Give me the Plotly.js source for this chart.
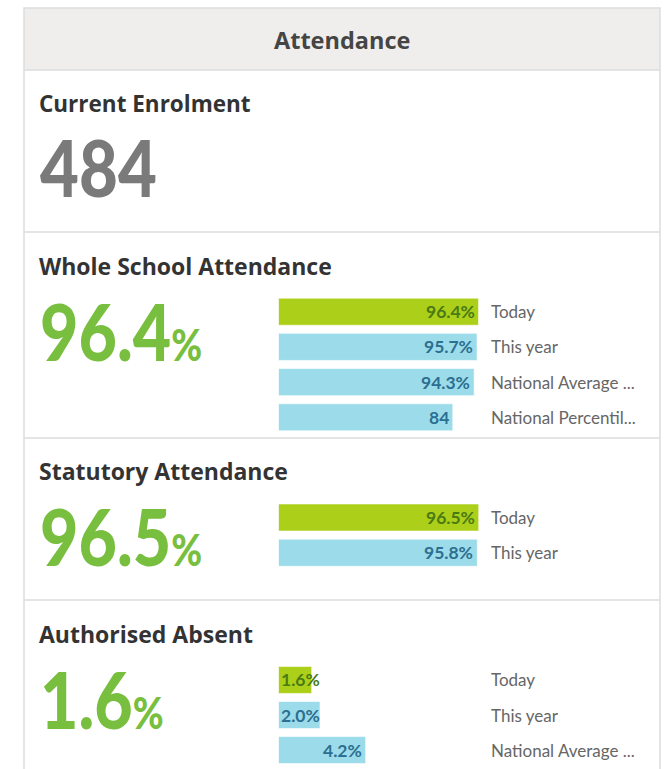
<!DOCTYPE html>
<html><head><meta charset="utf-8">
<script src="https://cdn.plot.ly/plotly-3.0.1.min.js"></script>
<style>html,body{margin:0;padding:0;background:#fff}#chart{width:664px;height:769px}</style>
</head><body><div id="chart"></div>
<script>
// ---- data ----
const cardTitle = 'Attendance';
const enrolLabel = 'Current Enrolment';
const enrolment = 484;

const wsTitle = 'Whole School Attendance';
const wsHeadline = 96.4;
const wsCats = ['Today', 'This year', 'National Average ...', 'National Percentil...'];
const wsVals = [96.4, 95.7, 94.3, 84];
const wsText = ['96.4%', '95.7%', '94.3%', '84'];

const stTitle = 'Statutory Attendance';
const stHeadline = 96.5;
const stCats = ['Today', 'This year'];
const stVals = [96.5, 95.8];
const stText = ['96.5%', '95.8%'];

const aaTitle = 'Authorised Absent';
const aaHeadline = 1.6;
const aaCats = ['Today', 'This year', 'National Average ...'];
const aaVals = [1.6, 2.0, 4.2];
const aaText = ['1.6%', '2.0%', '4.2%'];

// ---- styles ----
const GREEN = '#acd01a', BLUE = '#9cdcea';
const GREEN_TXT = '#4a7a14', BLUE_TXT = '#2c6f90';
const BIG_GREEN = '#79bf3f';
const FONT = 'Lato, "Open Sans", sans-serif';
const HFONT = '"Open Sans", Lato, sans-serif';
const W = 664, H = 769;
const px = x => x / W, py = y => 1 - y / H;

function barTrace(cats, vals, ax) {
  return {
    type: 'bar', orientation: 'h', x: vals, y: cats,
    xaxis: 'x' + ax, yaxis: 'y' + ax,
    marker: { color: vals.map((v, i) => i === 0 ? GREEN : BLUE),
              line: { color: 'rgba(255,255,255,0.6)', width: 1 } },
    hoverinfo: 'skip', showlegend: false
  };
}

const data = [
  barTrace(wsCats, wsVals, ''),
  barTrace(stCats, stVals, '2'),
  barTrace(aaCats, aaVals, '3')
];

const xdom = [px(278.5), px(486)];
function yax(n, top, bottom, anchor) {
  return { domain: [py(bottom), py(top)], range: [n - 0.5, -0.5], showticklabels: false,
           showgrid: false, zeroline: false, showline: false, ticks: '', fixedrange: true, anchor: anchor };
}
function xax(max, anchor) {
  return { domain: xdom, range: [0, max], visible: false, fixedrange: true, anchor: anchor };
}

const annotations = [];
const bigIdx = [];
function txt(text, x, y, size, color, family, weight, opts) {
  annotations.push(Object.assign({ text: text, x: px(x), y: py(y), xref: 'paper', yref: 'paper',
    showarrow: false, xanchor: 'left', yanchor: 'middle',
    font: { family: family, size: size, color: color, weight: weight } }, opts || {}));
  return annotations.length - 1;
}
txt(cardTitle, 342, 40, 23.5, '#454545', HFONT, 'bold', { xanchor: 'center' });
txt(enrolLabel, 37, 103, 22.5, '#333', HFONT, 'bold');
bigIdx.push(txt(String(enrolment), 38, 167, 79, '#7a7a7a', FONT, 900));

function section(title, headline, titleY, numY) {
  txt(title, 37, titleY, 23, '#333', HFONT, 'bold');
  bigIdx.push(txt(headline.toFixed(1) + '<span style="font-size:44px">%</span>',
      38, numY, 78, BIG_GREEN, FONT, 900));
}
section(wsTitle, wsHeadline, 266, 331);
section(stTitle, stHeadline, 471, 536);
section(aaTitle, aaHeadline, 634, 699);

function barLabels(cats, vals, texts, ax, minX) {
  cats.forEach((c, i) => {
    annotations.push({ text: texts[i], x: Math.max(vals[i], minX), y: c,
      xref: 'x' + ax, yref: 'y' + ax, xanchor: 'right', yanchor: 'middle', xshift: -2,
      showarrow: false, font: { family: FONT, size: 17.5, weight: 'bold', color: i === 0 ? GREEN_TXT : BLUE_TXT } });
    annotations.push({ text: c, x: px(489), y: c, xref: 'paper', yref: 'y' + ax,
      xanchor: 'left', yanchor: 'middle', showarrow: false,
      font: { family: FONT, size: 17, color: '#666' } });
  });
}
barLabels(wsCats, wsVals, wsText, '', 0);
barLabels(stCats, stVals, stText, '2', 0);
barLabels(aaCats, aaVals, aaText, '3', 2.2);

const L = 24, R = 660;
const shapes = [
  { type: 'rect', xref: 'paper', yref: 'paper', x0: px(L), x1: px(R), y0: py(70), y1: py(8),
    fillcolor: '#efeeed', line: { width: 0 }, layer: 'below' },
  { type: 'rect', xref: 'paper', yref: 'paper', x0: px(L), x1: px(R), y0: py(780), y1: py(8),
    fillcolor: 'rgba(0,0,0,0)', line: { color: '#dddddd', width: 1.5 }, layer: 'below' }
];
[70, 232, 438, 600].forEach(y => shapes.push({ type: 'line', xref: 'paper', yref: 'paper',
  x0: px(L), x1: px(R), y0: py(y), y1: py(y), line: { color: '#dddddd', width: 1.5 } }));

const layout = {
  width: W, height: H, margin: { l: 0, r: 0, t: 0, b: 0 },
  paper_bgcolor: '#fff', plot_bgcolor: 'rgba(0,0,0,0)',
  bargap: 0.23, showlegend: false,
  font: { family: FONT },
  xaxis: xax(100, 'y'), yaxis: yax(wsCats.length, 294.1, 434.9, 'x'),
  xaxis2: xax(100, 'y2'), yaxis2: yax(stCats.length, 499.9, 570.3, 'x2'),
  xaxis3: xax(10, 'y3'), yaxis3: yax(aaCats.length, 662.4, 767.6, 'x3'),
  annotations: annotations, shapes: shapes
};

Plotly.newPlot('chart', data, layout, { displayModeBar: false, staticPlot: true }).then(gd => {
  // condense the big headline numbers (narrow typeface look)
  bigIdx.forEach(i => {
    gd.querySelectorAll('.annotation[data-index="' + i + '"] text').forEach(t => {
      t.style.transformBox = 'fill-box';
      t.style.transformOrigin = 'left center';
      t.style.transform = 'scaleX(0.85)';
    });
  });
});
</script></body></html>
